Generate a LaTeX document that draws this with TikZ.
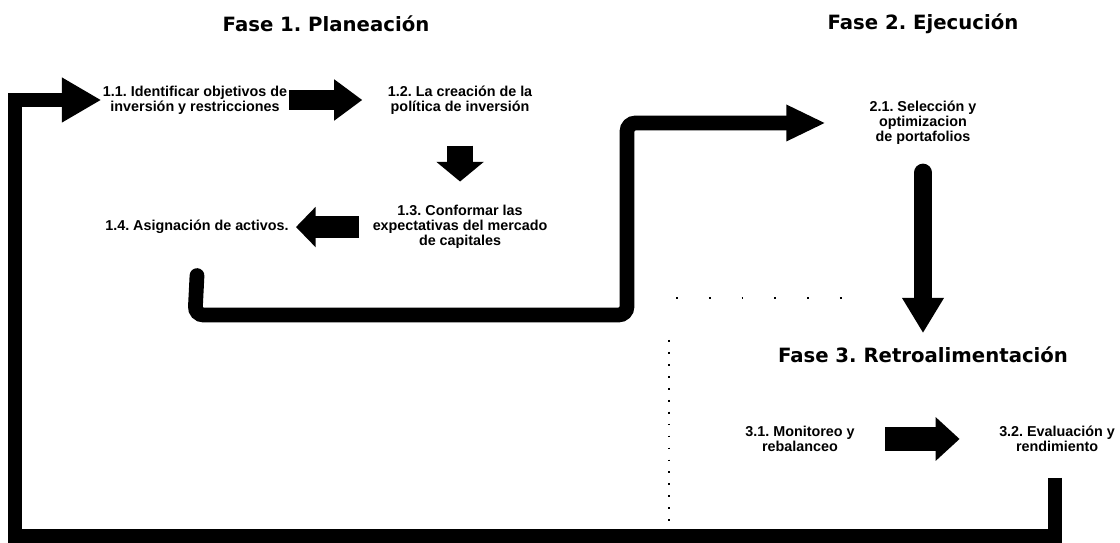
\documentclass[tikz,border=0pt]{standalone}
\usepackage{fontspec}
\setmainfont{Liberation Sans}
\newfontfamily\titlefont{DejaVu Sans}
\usetikzlibrary{arrows.meta, positioning}
\frenchspacing
\tikzset{
  phasetitle/.style={font=\titlefont\bfseries\fontsize{14}{16}\selectfont},
  stagetext/.style={font=\bfseries\fontsize{10.2}{10.8}\selectfont, align=center, inner sep=1pt},
  fatarrow/.style={line join=miter},
  routeline/.style={line width=10.5pt, line cap=round, rounded corners=6pt},
  gridline/.style={line width=1.3pt, dash pattern=on 1.3pt off 7.2pt},
}

\begin{document}
\begin{tikzpicture}[x=0.025cm, y=-0.025cm]
		\useasboundingbox (0,0) rectangle (1120,543);

		% titles
		\node[phasetitle] (fase1) at (326,24) {Fase 1. Planeación};
		\node[phasetitle] (fase2) at (923,24) {Fase 2. Ejecución};

		% stages
		\node[stagetext] (s11) at (195,100) {1.1. Identificar objetivos de\\inversión y restricciones};
		\node[stagetext, right of=s11, node distance=6.625cm] (s12) {1.2. La creación de la\\política de inversión};
		\node[stagetext, below of=s12, node distance=3.175cm] (s13) {1.3. Conformar las\\expectativas del mercado\\de capitales};
		\node[stagetext, left of=s13, node distance=6.575cm] (s14) {1.4. Asignación de activos.};
		\node[stagetext] (s21) at (923,123) {2.1. Selección y\\optimizacion\\de portafolios};
		\node[phasetitle, below of=s21, node distance=5.8cm] (fase3) {Fase 3. Retroalimentación};
		\node[stagetext] (s31) at (800,439) {3.1. Monitoreo y\\rebalanceo};
		\node[stagetext, right of=s31, node distance=6.425cm] (s32) {3.2. Evaluación y\\rendimiento};

		% corners of the feedback loop
		\coordinate (fbtop) at (1055,478);
		\coordinate (fbright) at (1055,536);
		\coordinate (fbleft) at (15,536);
		\coordinate (bend1) at (195,315);
		\coordinate (bend2) at (627,315);

		% phase 1 arrows
		\draw[fatarrow, line width=14pt, -{Triangle[length=20pt, width=28pt]}, shorten >=17pt] (s11) -- (s12);
		\draw[fatarrow, line width=18.5pt, -{Triangle[length=14pt, width=33pt]}, shorten <=21pt, shorten >=15.6pt] (s12) -- (s13);
		\draw[fatarrow, line width=15.6pt, -{Triangle[length=14pt, width=28pt]}, shorten <=8.5pt, shorten >=4pt] (s13) -- (s14);

		% towards phase 2 and 3
		\draw[routeline, -{Triangle[length=28pt, width=24pt]}, shorten >=30pt] ([yshift=-28.5pt]s14.south) -- (bend1) -- (bend2) |- (s21);
		\draw[routeline, line width=12.8pt, -{Triangle[length=25pt, width=28pt]}, shorten <=18.5pt, shorten >=6.4pt] (s21) -- (fase3);
		\draw[fatarrow, line width=17pt, -{Triangle[length=17pt, width=30pt]}, shorten <=20.6pt, shorten >=27pt] (s31) -- (s32);

		% feedback
		\draw[fatarrow, line width=10pt, -{Triangle[length=28pt, width=30pt]}] (fbtop) -- (fbright) -- (fbleft) |- (s11);

		% dotted guides
		\draw[gridline] (669,340) -- (669,522);
		\draw[gridline, dash pattern=on 1.3pt off 22pt] (676,298) -- (850,298);

	\end{tikzpicture}
\end{document}
